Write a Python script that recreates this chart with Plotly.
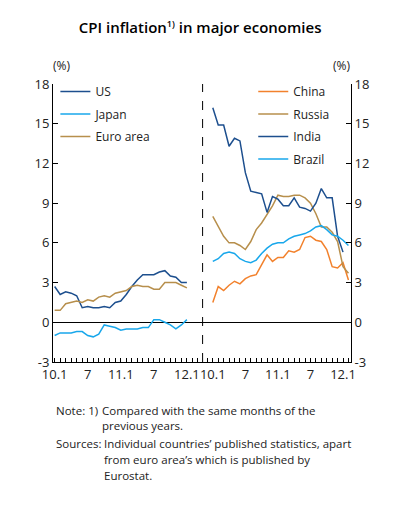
import plotly.graph_objects as go
from plotly.subplots import make_subplots

# y/y CPI (%), monthly from Jan 2010
us = [2.7, 2.1, 2.3, 2.2, 2.0, 1.1, 1.2, 1.1, 1.1, 1.2, 1.1, 1.5, 1.6,
      2.1, 2.7, 3.2, 3.6, 3.6, 3.6, 3.8, 3.9, 3.5, 3.4, 3.0, 3.0]
japan = [-1.0, -0.8, -0.8, -0.8, -0.7, -0.7, -1.0, -1.1, -0.9, -0.2, -0.3, -0.4, -0.6,
         -0.5, -0.5, -0.5, -0.4, -0.4, 0.2, 0.2, 0.0, -0.2, -0.5, -0.2, 0.2]
euro = [0.9, 0.9, 1.4, 1.5, 1.6, 1.5, 1.7, 1.6, 1.9, 2.0, 1.9, 2.2, 2.3,
        2.4, 2.7, 2.8, 2.7, 2.7, 2.5, 2.5, 3.0, 3.0, 3.0, 2.8, 2.6]

china = [1.5, 2.7, 2.4, 2.8, 3.1, 2.9, 3.3, 3.5, 3.6, 4.4, 5.1, 4.6, 4.9,
         4.9, 5.4, 5.3, 5.5, 6.4, 6.5, 6.2, 6.1, 5.5, 4.2, 4.1, 4.5, 3.2]
russia = [8.0, 7.2, 6.5, 6.0, 6.0, 5.8, 5.5, 6.1, 7.0, 7.5, 8.1, 8.8, 9.6,
          9.5, 9.5, 9.6, 9.6, 9.4, 9.0, 8.2, 7.2, 7.2, 6.8, 6.1, 4.2, 3.7]
india = [16.2, 14.9, 14.9, 13.3, 13.9, 13.7, 11.3, 9.9, 9.8, 9.7, 8.3, 9.5, 9.3,
         8.8, 8.8, 9.4, 8.7, 8.6, 8.4, 9.0, 10.1, 9.4, 9.4, 6.5, 5.3]
brazil = [4.6, 4.8, 5.2, 5.3, 5.2, 4.8, 4.6, 4.5, 4.7, 5.2, 5.6, 5.9, 6.0,
          6.0, 6.3, 6.5, 6.6, 6.7, 6.9, 7.2, 7.3, 7.0, 6.6, 6.5, 6.2, 5.8]

tick_vals = [0, 6, 12, 18, 24]
tick_text = ["10.1", "7", "11.1", "7", "12.1"]
y_ticks = [-3, 0, 3, 6, 9, 12, 15, 18]

DARK_BLUE = "#1d4f8e"
SKY = "#18a7eb"
TAN = "#b78f4c"
ORANGE = "#f2812c"
FONT = "Open Sans"

fig = make_subplots(rows=1, cols=2, horizontal_spacing=0)

left = [("US", us, DARK_BLUE), ("Japan", japan, SKY), ("Euro area", euro, TAN)]
right = [("China", china, ORANGE), ("Russia", russia, TAN),
         ("India", india, DARK_BLUE), ("Brazil", brazil, SKY)]

# one legendgroup per trace so tracegroupgap spreads the entries out
for name, vals, color in left:
    fig.add_trace(go.Scatter(x=list(range(len(vals))), y=vals, name=name, mode="lines",
                             line=dict(color=color, width=1.5), legend="legend",
                             legendgroup=name),
                  row=1, col=1)
for name, vals, color in right:
    fig.add_trace(go.Scatter(x=list(range(len(vals))), y=vals, name=name, mode="lines",
                             line=dict(color=color, width=1.5), legend="legend2",
                             legendgroup=name),
                  row=1, col=2)

xcommon = dict(tickmode="array", tickvals=tick_vals, ticktext=tick_text,
               ticks="inside", ticklen=4, tickcolor="black", showline=True,
               linecolor="black", linewidth=1, showgrid=False, zeroline=False,
               minor=dict(dtick=1, tick0=0, ticks="inside", ticklen=4, tickcolor="black", showgrid=False),
               tickfont=dict(size=13, color="#222"))
fig.update_xaxes(xcommon)
fig.update_xaxes(domain=[0, 0.502], range=[-0.3, 26.85], row=1, col=1)
fig.update_xaxes(domain=[0.502, 1], range=[-1.88, 25.47], row=1, col=2)

ycommon = dict(range=[-3, 18], tickmode="array", tickvals=y_ticks,
               ticktext=[str(v) for v in y_ticks], ticks="inside", ticklen=5,
               tickcolor="black", showline=True, linecolor="black", linewidth=1,
               showgrid=False, zeroline=True, zerolinecolor="black", zerolinewidth=1,
               tickfont=dict(size=13, color="#222"))
fig.update_yaxes(ycommon)
fig.update_yaxes(side="left", row=1, col=1)
fig.update_yaxes(side="right", row=1, col=2)

# dashed divider between the two panels
fig.add_shape(type="line", xref="x domain", yref="y domain", x0=1, x1=1, y0=0, y1=1,
              line=dict(color="black", width=1, dash="dash"))

for x in (0.027, 0.969):
    fig.add_annotation(text="(%)", xref="paper", yref="paper", x=x, y=1.065,
                       xanchor="center", yanchor="middle",
                       showarrow=False, font=dict(size=12, color="#222"))

notes = [
    (0.003, -0.174, "Note: 1)"),
    (0.158, -0.174, "Compared with the same months of the"),
    (0.158, -0.228, "previous years."),
    (0.003, -0.293, "Sources:"),
    (0.164, -0.293, "Individual countries’ published statistics, apart"),
    (0.164, -0.350, "from euro area’s which is published by"),
    (0.164, -0.408, "Eurostat."),
]
for x, y, t in notes:
    fig.add_annotation(text=t, xref="paper", yref="paper", x=x, y=y, xanchor="left",
                       yanchor="middle", showarrow=False, font=dict(size=11.5, color="#222"))

# page body adds an 8px offset, so the figure is 8px smaller than the window
fig.update_layout(
    width=402, height=502,
    margin=dict(l=44.7, r=59, t=76.3, b=148.3),
    paper_bgcolor="white", plot_bgcolor="white",
    font=dict(family=FONT, color="#222"),
    title=dict(text="CPI inflation<sup><span style='font-size:9px'>1)</span></sup> in major economies",
               x=0.478, xanchor="center", y=0.96, yanchor="middle",
               font=dict(size=15, color="black", weight=600)),
    legend=dict(x=0.008, y=1.025, xanchor="left", yanchor="top", bgcolor="rgba(0,0,0,0)",
                font=dict(size=12), itemwidth=30, tracegroupgap=3.5),
    legend2=dict(x=0.672, y=1.025, xanchor="left", yanchor="top", bgcolor="rgba(0,0,0,0)",
                 font=dict(size=12), itemwidth=30, tracegroupgap=3.5),
)

fig.write_html("out.html")
